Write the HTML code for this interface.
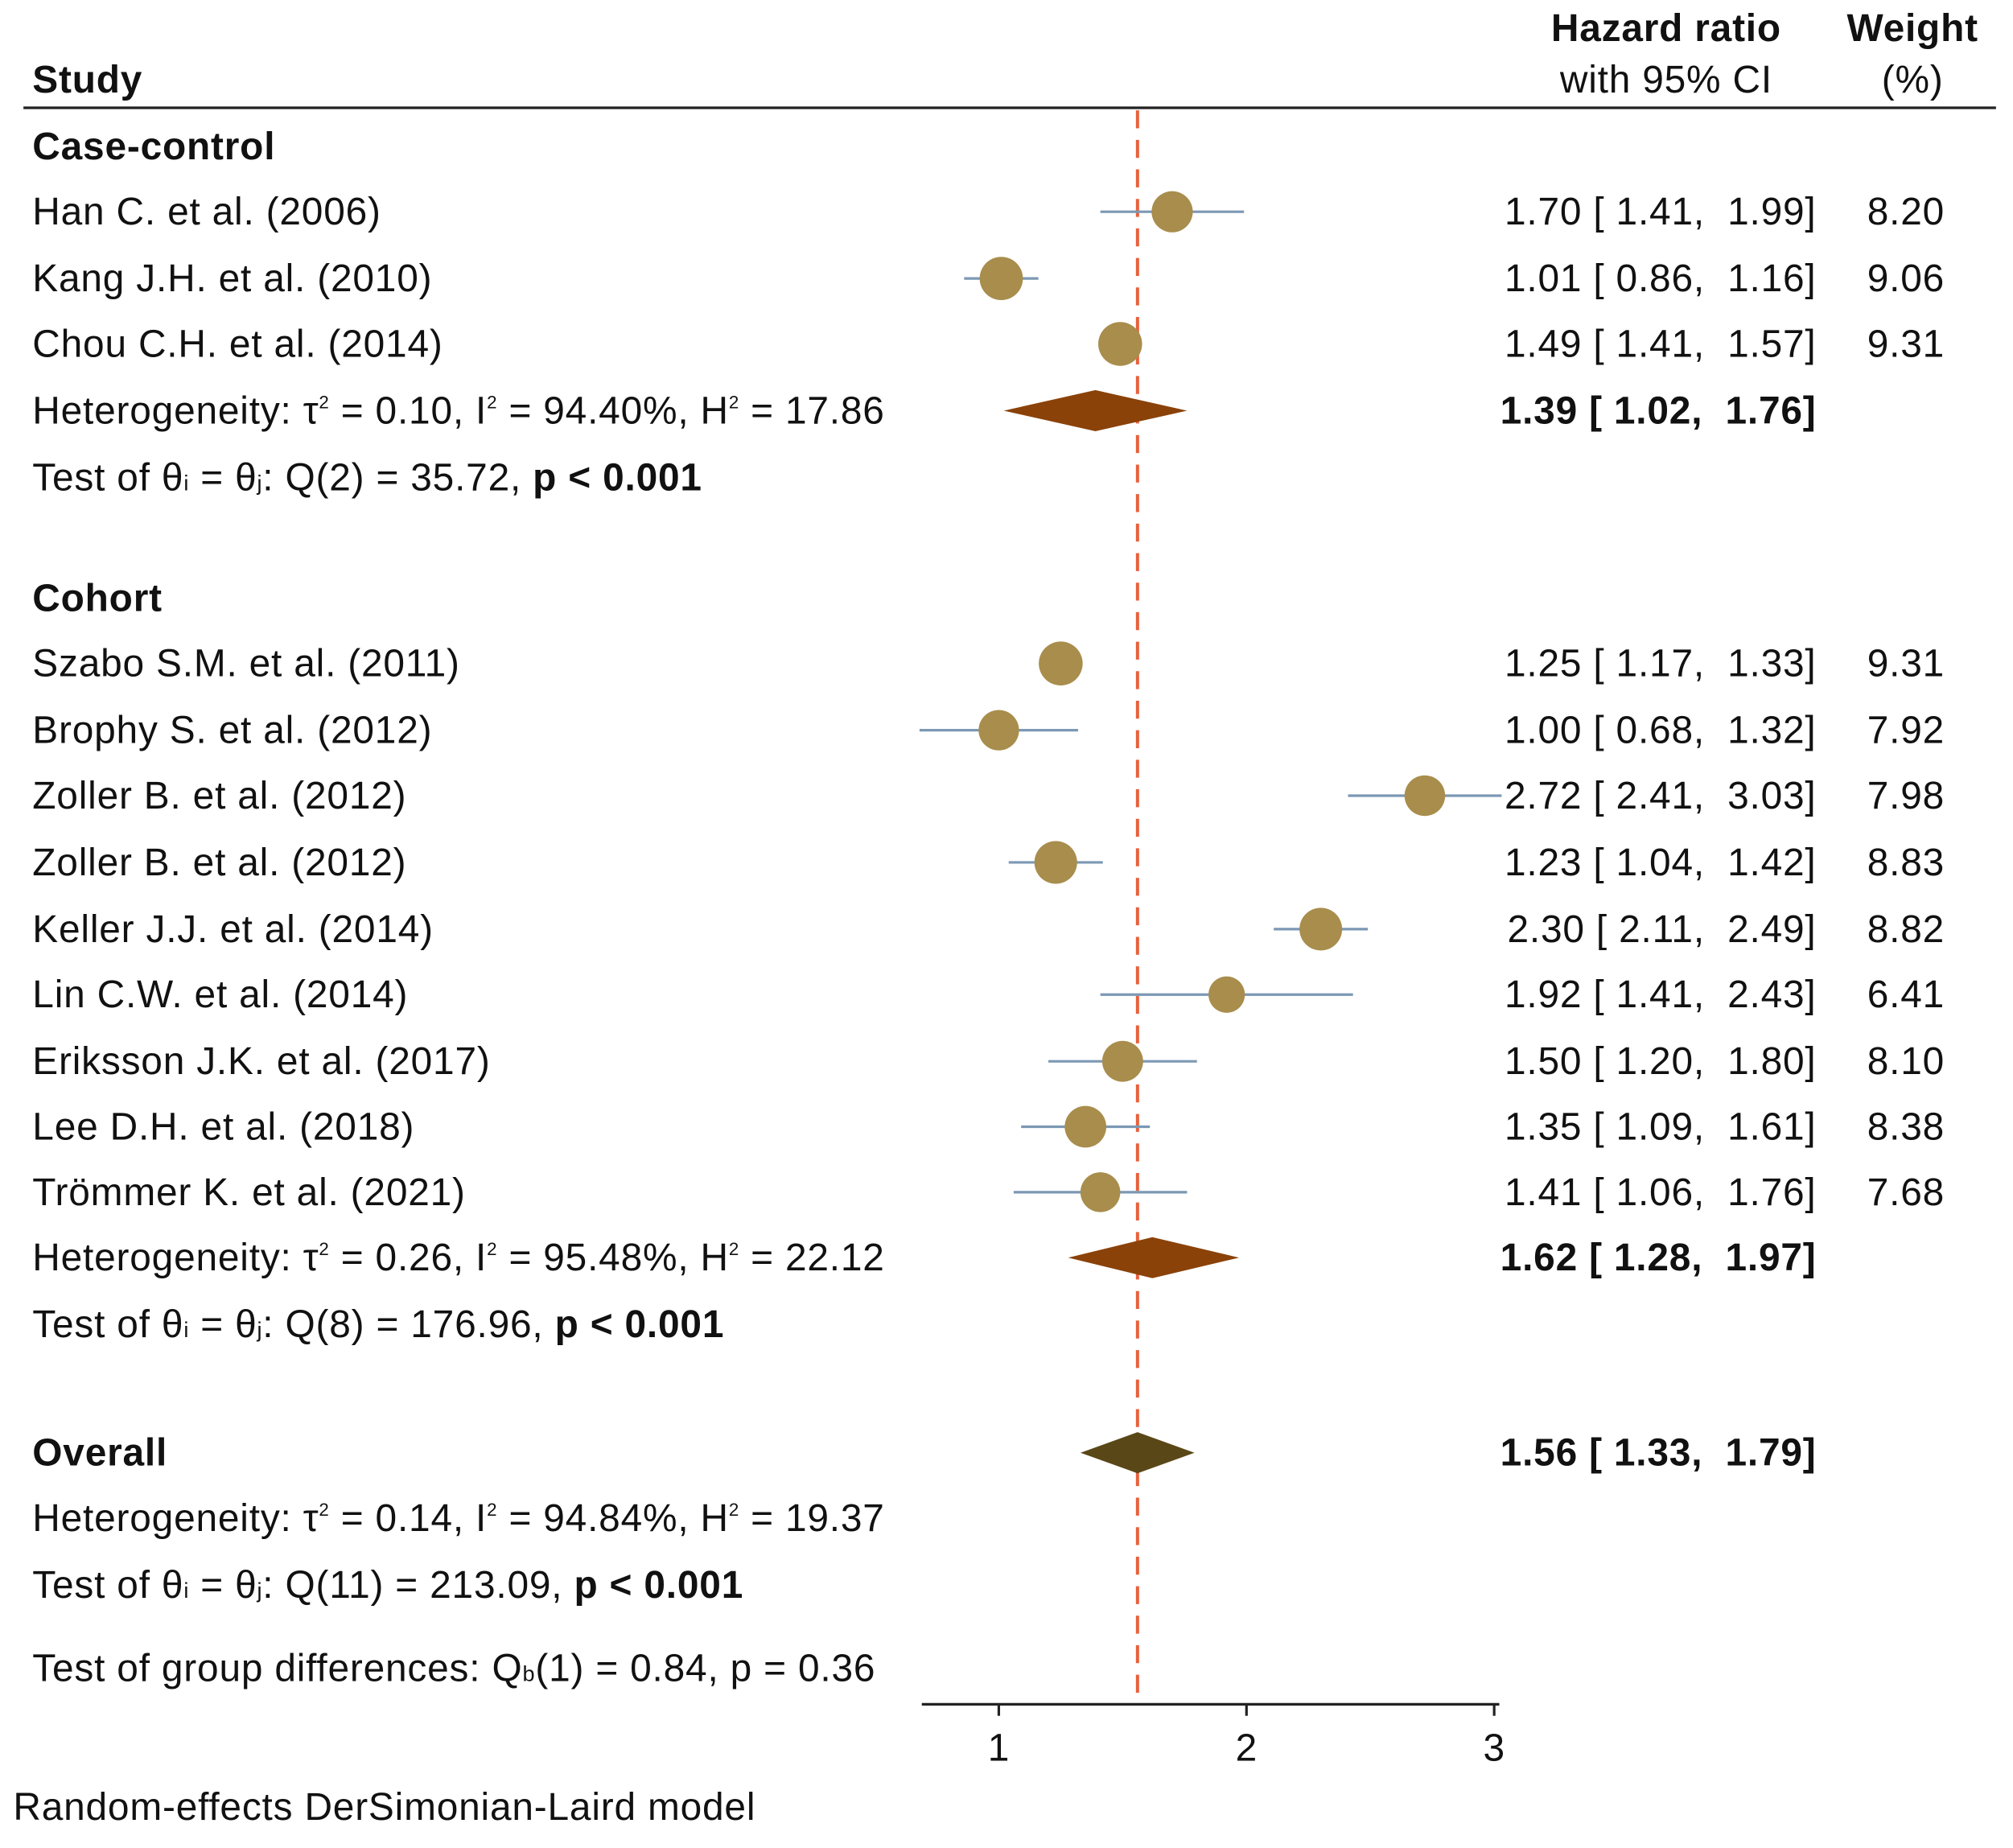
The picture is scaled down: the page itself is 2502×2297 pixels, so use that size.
<!DOCTYPE html>
<html><head><meta charset="utf-8">
<style>
html,body{margin:0;padding:0;background:#fff;}
svg{display:block;}
text{font-family:"Liberation Sans",Arial,sans-serif;font-size:30px;letter-spacing:0.5px;fill:#111;white-space:pre;}
.b{font-weight:bold;}
</style></head>
<body>
<svg id="chart" width="2502" height="2297" viewBox="0 0 1568 1440" xmlns="http://www.w3.org/2000/svg" xml:space="preserve">
<rect width="1568" height="1440" fill="#fff"/>
<text x="25" y="72" class="b">Study</text>
<text x="1298" y="32" class="b" text-anchor="middle">Hazard ratio</text>
<text x="1298" y="72" text-anchor="middle">with 95% CI</text>
<text x="1490" y="32" class="b" text-anchor="middle">Weight</text>
<text x="1490" y="72" text-anchor="middle">(%)</text>
<line x1="18" y1="84" x2="1555" y2="84" stroke="#222" stroke-width="2"/>
<g id="labels"></g>
<g id="marks"></g>
<text x="10" y="1418">Random-effects DerSimonian-Laird model</text>
</svg>
<script>
const studies = ["Han C. et al. (2006)","Kang J.H. et al. (2010)","Chou C.H. et al. (2014)","Szabo S.M. et al. (2011)","Brophy S. et al. (2012)","Zoller B. et al. (2012)","Zoller B. et al. (2012)","Keller J.J. et al. (2014)","Lin C.W. et al. (2014)","Eriksson J.K. et al. (2017)","Lee D.H. et al. (2018)","Trömmer K. et al. (2021)"];
const hr = [1.70,1.01,1.49,1.25,1.00,2.72,1.23,2.30,1.92,1.50,1.35,1.41];
const lo = [1.41,0.86,1.41,1.17,0.68,2.41,1.04,2.11,1.41,1.20,1.09,1.06];
const hi = [1.99,1.16,1.57,1.33,1.32,3.03,1.42,2.49,2.43,1.80,1.61,1.76];
const weights = [8.20,9.06,9.31,9.31,7.92,7.98,8.83,8.82,6.41,8.10,8.38,7.68];
const rowY = [165,217,268,517,569,620,672,724,775,827,878,929];
const pooledNames = ["case-control","cohort","overall"];
const pooledEst = [1.39,1.62,1.56];
const pooledLo = [1.02,1.28,1.33];
const pooledHi = [1.76,1.97,1.79];
const pooledY = [320,980,1132];
const pooledColor = ["#8a4209","#8a4209","#5a4717"];
const xTicks = [1,2,3];
const overallLine = 1.56;

const NS="http://www.w3.org/2000/svg";
const gL=document.getElementById('labels'), gM=document.getElementById('marks');
function X(v){return 778+(v-1)*193;}
function mk(tag,attrs,parent){const e=document.createElementNS(NS,tag);for(const k in attrs)e.setAttribute(k,attrs[k]);parent.appendChild(e);return e;}
function txt(x,y,s,parent,opts){const t=mk('text',Object.assign({x:x,y:y+10},opts||{}),parent);t.innerHTML=s;return t;}
const f=v=>v.toFixed(2);

let t;
t=txt(25,114,"Case-control",gL,{class:"b"});


t=txt(25,466,"Cohort",gL,{class:"b"});


t=txt(25,1132,"Overall",gL,{class:"b"});



const het=[["0.10","94.40%","17.86",320],["0.26","95.48%","22.12",980],["0.14","94.84%","19.37",1183]];
het.forEach((h,i)=>{
  t=txt(25,h[3],`Heterogeneity: τ<tspan dy="-12" font-size="14">2</tspan><tspan dy="12"> = ${h[0]}, I</tspan><tspan dy="-12" font-size="14">2</tspan><tspan dy="12"> = ${h[1]}, H</tspan><tspan dy="-12" font-size="14">2</tspan><tspan dy="12"> = ${h[2]}</tspan>`,gL);
  
  
});
const tests=[["2","35.72",372],["8","176.96",1032],["11","213.09",1235]];
tests.forEach((q,i)=>{
  t=txt(25,q[2],`Test of θ<tspan font-size="17">i</tspan> = θ<tspan font-size="17">j</tspan>: Q(${q[0]}) = ${q[1]}, <tspan font-weight="bold">p &lt; 0.001</tspan>`,gL);
  
  
});
t=txt(25,1300,`Test of group differences: Q<tspan font-size="17">b</tspan>(1) = 0.84, p = 0.36`,gL);



let a=mk('line',{x1:718,y1:1328,x2:1168,y2:1328,stroke:"#222","stroke-width":2},gM);


xTicks.forEach(v=>{
  const l=mk('line',{x1:X(v),y1:1328,x2:X(v),y2:1337,stroke:"#222","stroke-width":2},gM);
  
  
  const tt=txt(X(v),1362,String(v),gM,{"text-anchor":"middle"});
  
  
});
a=mk('line',{x1:X(overallLine),y1:86,x2:X(overallLine),y2:1328,stroke:"#e8603c","stroke-width":2.5,"stroke-dasharray":"14,9"},gM);



studies.forEach((s,i)=>{
  const y=rowY[i];
  let e=txt(25,y,s,gL);
  
  
  e=mk('line',{x1:X(lo[i]),y1:y,x2:X(hi[i]),y2:y,stroke:"#7c98b4","stroke-width":2},gM);
  
  
  e=mk('circle',{cx:X(hr[i]),cy:y,r:Math.sqrt(weights[i])*5.6,fill:"#a88d4c"},gM);
  
  
  e=txt(1415,y,`${f(hr[i])} [ ${f(lo[i])},  ${f(hi[i])}]`,gL,{"text-anchor":"end"});
  
  
  e=txt(1515,y,f(weights[i]),gL,{"text-anchor":"end"});
  
  
});

pooledEst.forEach((v,i)=>{
  const y=pooledY[i];
  let e=mk('polygon',{points:`${X(pooledLo[i])},${y} ${X(v)},${y-16} ${X(pooledHi[i])},${y} ${X(v)},${y+16}`,fill:pooledColor[i]},gM);
  
  
  e=txt(1415,y,`${f(v)} [ ${f(pooledLo[i])},  ${f(pooledHi[i])}]`,gL,{"text-anchor":"end",class:"b"});
  
  
});
</script>
</body></html>
